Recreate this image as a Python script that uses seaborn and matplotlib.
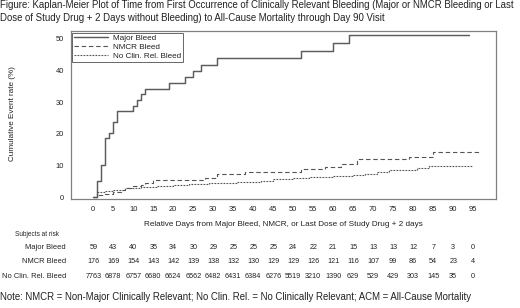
import numpy as np
import pandas as pd
import matplotlib
matplotlib.use("Agg")
import matplotlib.pyplot as plt
import seaborn as sns
from matplotlib.transforms import blended_transform_factory

# ---- data ----
major_days = [0, 1, 2, 3, 4, 5, 6, 10, 11, 12, 13, 19, 23, 25, 27, 31, 52, 60, 64, 94]
major_rate = [0, 5.1, 10.2, 18.6, 20.3, 23.7, 27.1, 28.9, 30.8, 32.5, 34.2, 36.2,
              38.1, 40.0, 41.9, 43.9, 46.3, 48.7, 51.2, 51.2]

nmcr_days = [0, 1, 3, 5, 7, 8, 10, 12, 13, 15, 28, 31, 38, 52, 58, 62, 66, 79, 85, 97]
nmcr_rate = [0, 0.6, 1.1, 1.7, 2.3, 2.9, 3.5, 4.0, 4.6, 5.6, 6.2, 7.4, 8.1, 8.9,
             9.7, 10.4, 12.0, 12.8, 14.4, 14.4]

noclin_days = [0, 1, 3, 5, 8, 12, 16, 20, 24, 29, 36, 42, 45, 50, 54, 60, 65, 68,
               71, 74, 81, 84, 95]
noclin_rate = [0, 1.6, 2.0, 2.3, 2.8, 3.2, 3.5, 3.8, 4.1, 4.4, 4.9, 5.3, 5.7, 6.0,
               6.3, 6.6, 6.9, 7.5, 8.0, 8.6, 9.1, 10.0, 10.0]

groups = ["Major Bleed", "NMCR Bleed", "No Clin. Rel. Bleed"]

risk_days = list(range(0, 100, 5))
risk_major = [59, 43, 40, 35, 34, 30, 29, 25, 25, 25, 24, 22, 21, 15, 13, 13, 12, 7, 3, 0]
risk_nmcr = [176, 169, 154, 143, 142, 139, 138, 132, 130, 129, 129, 126, 121, 116,
             107, 99, 86, 54, 23, 4]
risk_noclin = [7763, 6878, 6757, 6680, 6624, 6562, 6482, 6431, 6384, 6276, 5519,
               3210, 1390, 629, 529, 429, 303, 145, 35, 0]

yticks = [0, 10, 20, 30, 40, 50]

title = ("Figure: Kaplan-Meier Plot of Time from First Occurrence of Clinically Relevant "
         "Bleeding (Major or NMCR Bleeding or Last\nDose of Study Drug + 2 Days without "
         "Bleeding) to All-Cause Mortality through Day 90 Visit")
xlabel = "Relative Days from Major Bleed, NMCR, or Last Dose of Study Drug + 2 days"
ylabel = "Cumulative Event rate (%)"
note = ("Note: NMCR = Non-Major Clinically Relevant; No Clin. Rel. = No Clinically "
        "Relevant; ACM = All-Cause Mortality")

# ---- figure ----
sns.set_theme(style="white")
plt.rcParams["font.family"] = ["Liberation Sans", "DejaVu Sans"]

W, H = 520, 308
fig = plt.figure(figsize=(W / 100, H / 100), dpi=100)
L, R, T, B = 71, 496, 31.3, 199.3
ax = fig.add_axes([L / W, 1 - B / H, (R - L) / W, (B - T) / H])

series = [
    (groups[0], major_days, major_rate, "#5c5c5c", 1.05, None),
    (groups[1], nmcr_days, nmcr_rate, "#555555", 0.8, (4, 2.5)),
    (groups[2], noclin_days, noclin_rate, "#555555", 0.8, (1.6, 1.1)),
]
for name, d, r, col, lw, dash in series:
    df = pd.DataFrame({"day": d, "rate": r})
    sns.lineplot(data=df, x="day", y="rate", ax=ax, color=col, linewidth=lw,
                 drawstyle="steps-post", estimator=None, sort=False, label=name)
    line = ax.get_lines()[-1]
    if dash is not None:
        line.set_dashes(dash)

ax.set_xlim(-5.575, 100.7)
ax.set_ylim(-0.63, 52.4)
ax.set_xticks(risk_days)
ax.set_yticks(yticks)
ax.tick_params(direction="out", length=3, width=0.7, color="#707070",
               labelsize=5.4, labelcolor="#222222", pad=2)
for s in ax.spines.values():
    s.set_visible(True)
    s.set_color("#808080")
    s.set_linewidth(0.9)
ax.set_xlabel("")
ax.set_ylabel("")

leg = ax.legend(loc="upper left", fontsize=5.9, frameon=True, fancybox=False,
                edgecolor="#404040", borderaxespad=0.15, borderpad=0.25,
                handlelength=4.1, handletextpad=0.6, labelspacing=0.15)
leg.get_frame().set_linewidth(0.7)
for t in leg.get_texts():
    t.set_color("#222222")

def fy(px):
    return 1 - px / H

def fx(px):
    return px / W

fig.text(fx(0), fy(0.5), title, fontsize=6.9, va="top", ha="left", color="#222222",
         linespacing=1.3)
fig.text(fx(13), fy(114), ylabel, fontsize=5.9, rotation=90, va="center",
         ha="center", color="#222222")
fig.text(fx(283), fy(224), xlabel, fontsize=5.9, va="center", ha="center",
         color="#222222")
fig.text(fx(15), fy(234), "Subjects at risk", fontsize=4.7, va="center", ha="left",
         color="#222222")

tr = blended_transform_factory(ax.transData, fig.transFigure)
rows = [(groups[0], risk_major, 247.7), (groups[1], risk_nmcr, 261.7),
        (groups[2], risk_noclin, 276.7)]
for name, vals, ypx in rows:
    fig.text(fx(66), fy(ypx), name, fontsize=5.4, va="center", ha="right",
             color="#222222")
    for d, v in zip(risk_days, vals):
        ax.text(d, fy(ypx), str(v), transform=tr, fontsize=5.2, va="center",
                ha="center", color="#222222")

fig.text(fx(0), fy(297), note, fontsize=6.9, va="center", ha="left",
         color="#222222")

fig.savefig("out.png", dpi=100)
